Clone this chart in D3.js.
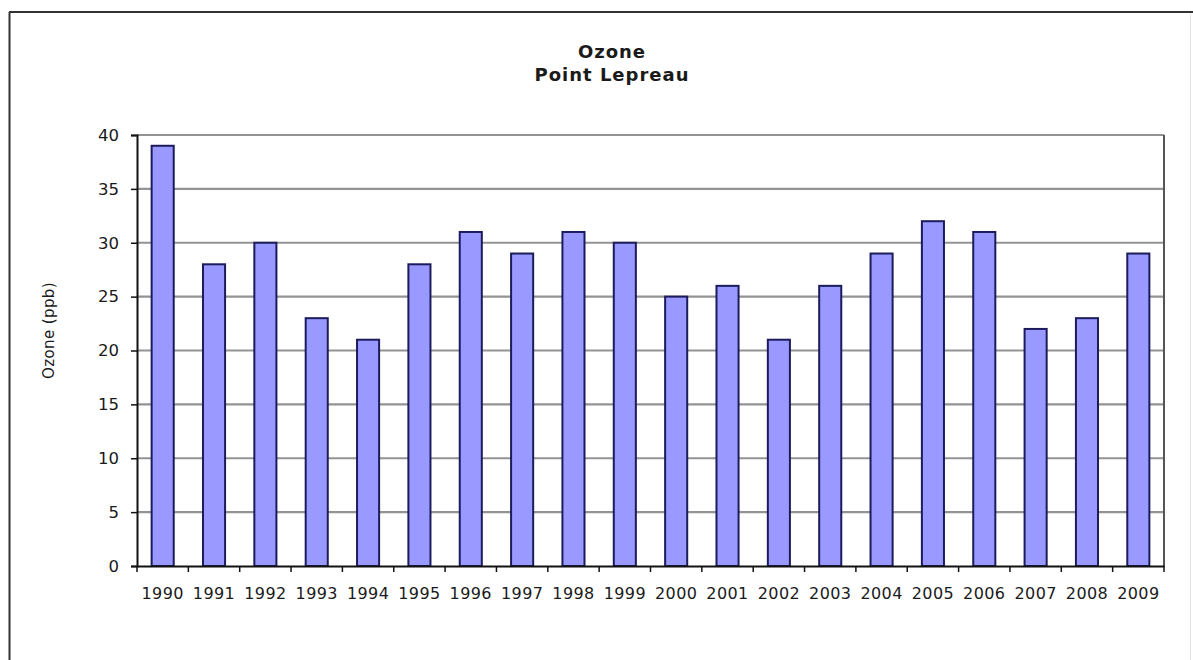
<!DOCTYPE html>
<html>
<head>
<meta charset="utf-8">
<script src="https://cdn.jsdelivr.net/npm/d3@7"></script>
<style>
  html, body { margin: 0; padding: 0; background: #ffffff; }
  svg { display: block; }
  text { font-family: "DejaVu Sans", "Liberation Sans", Arial, sans-serif; fill: #1a1a1a; }
</style>
</head>
<body>
<svg id="chart" width="1193" height="660"></svg>
<script>
// Annual ozone, Point Lepreau
const years = ["1990","1991","1992","1993","1994","1995","1996","1997","1998","1999",
               "2000","2001","2002","2003","2004","2005","2006","2007","2008","2009"];
const ozone = [39, 28, 30, 23, 21, 28, 31, 29, 31, 30,
               25, 26, 21, 26, 29, 32, 31, 22, 23, 29];
const yTicks = [0, 5, 10, 15, 20, 25, 30, 35, 40];
const titleLines = ["Ozone", "Point Lepreau"];
const yLabel = "Ozone (ppb)";

const svg = d3.select("#chart");
const W = 1193, H = 660;
const plot = { left: 137, right: 1164, top: 135, bottom: 566 };

// outer chart frame
svg.append("line").attr("x1", 9).attr("x2", W).attr("y1", 12).attr("y2", 12)
  .attr("stroke", "#333").attr("stroke-width", 2);
svg.append("line").attr("x1", 9.5).attr("x2", 9.5).attr("y1", 12).attr("y2", H)
  .attr("stroke", "#333").attr("stroke-width", 2);
svg.append("line").attr("x1", 1190.5).attr("x2", 1190.5).attr("y1", 14).attr("y2", H)
  .attr("stroke", "#e4e4e4").attr("stroke-width", 1);

const x = d3.scaleBand().domain(years)
  .range([plot.left, plot.right]).paddingInner(0.57).paddingOuter(0.285);
const y = d3.scaleLinear().domain([0, 40]).range([plot.bottom, plot.top]);

// horizontal gridlines
svg.append("g").selectAll("line").data(yTicks.filter(d => d > 0)).join("line")
  .attr("x1", plot.left).attr("x2", plot.right)
  .attr("y1", d => y(d)).attr("y2", d => y(d))
  .attr("stroke", "#939393").attr("stroke-width", 2.2);

// right border of plot area
svg.append("line").attr("x1", plot.right).attr("x2", plot.right)
  .attr("y1", plot.top).attr("y2", plot.bottom)
  .attr("stroke", "#555").attr("stroke-width", 2);

// bars
svg.append("g").selectAll("rect").data(years).join("rect")
  .attr("x", d => x(d))
  .attr("y", (d, i) => y(ozone[i]))
  .attr("width", x.bandwidth())
  .attr("height", (d, i) => y(0) - y(ozone[i]))
  .attr("fill", "#9999ff")
  .attr("stroke", "#1c1c5c")
  .attr("stroke-width", 2);

// y axis
const yAxis = svg.append("g").attr("transform", `translate(${plot.left},0)`)
  .call(d3.axisLeft(y).tickValues(yTicks).tickSize(6).tickPadding(12));
yAxis.select(".domain").attr("stroke", "#111").attr("stroke-width", 2);
yAxis.selectAll(".tick line").attr("stroke", "#111").attr("stroke-width", 1.5);
yAxis.selectAll(".tick text").style("font-size", "16.5px").attr("fill", "#2a2a2a")
  .style("font-family", "DejaVu Sans");

// x axis with ticks between categories
const xAxis = svg.append("g").attr("transform", `translate(0,${plot.bottom})`)
  .call(d3.axisBottom(x).tickSize(0).tickPadding(22));
xAxis.select(".domain").attr("stroke", "#111").attr("stroke-width", 2);
xAxis.selectAll(".tick text").style("font-size", "16px").attr("fill", "#2a2a2a")
  .style("font-family", "DejaVu Sans").attr("letter-spacing", "0.4");
const step = x.step();
svg.append("g").selectAll("line")
  .data(d3.range(years.length + 1))
  .join("line")
  .attr("x1", i => plot.left + i * step).attr("x2", i => plot.left + i * step)
  .attr("y1", plot.bottom).attr("y2", plot.bottom + 6)
  .attr("stroke", "#111").attr("stroke-width", 1.5);

// title
svg.append("g").selectAll("text").data(titleLines).join("text")
  .attr("x", 612).attr("y", (d, i) => 58 + i * 23)
  .attr("text-anchor", "middle")
  .attr("letter-spacing", "1")
  .style("font-size", "18px").style("font-weight", "bold")
  .attr("fill", "#1e1e1e")
  .text(d => d);

// y axis label
svg.append("text")
  .attr("transform", `translate(54,${(plot.top + plot.bottom) / 2 - 20}) rotate(-90)`)
  .attr("text-anchor", "middle")
  .attr("letter-spacing", "0.4")
  .style("font-size", "15px")
  .attr("fill", "#2a2a2a")
  .text(yLabel);
</script>
</body>
</html>
